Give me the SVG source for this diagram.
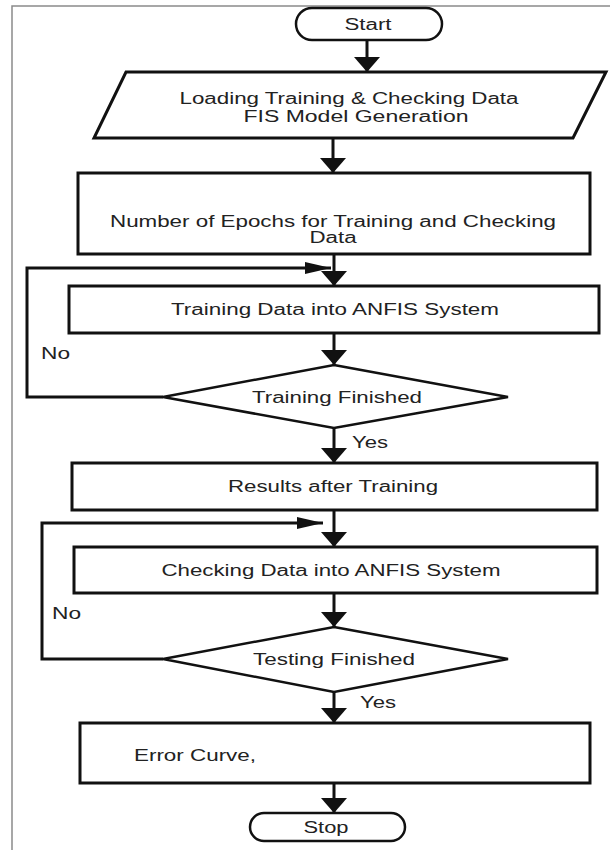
<svg xmlns="http://www.w3.org/2000/svg" width="610" height="850" viewBox="0 0 610 850">
<style>
  .frame { fill: none; stroke: #8a8a8a; stroke-width: 1.5; }
  .node { fill: #ffffff; stroke: #111111; stroke-width: 3; stroke-linejoin: miter; }
  .term { fill: #ffffff; stroke: #111111; stroke-width: 2.5; }
  .dec { fill: #ffffff; stroke: #111111; stroke-width: 2.5; stroke-linejoin: miter; }
  .conn { fill: none; stroke: #111111; stroke-width: 3; }
  text { font-family: "Liberation Sans", Arial, Helvetica, sans-serif; font-size: 16px; fill: #222222; }
  .c { text-anchor: middle; }
</style>
<defs>
  <marker id="head" viewBox="0 0 15 26" refX="15" refY="13" markerWidth="15" markerHeight="26" orient="auto" markerUnits="userSpaceOnUse">
    <path d="M0,0 L15,13 L0,26 Z" fill="#111111"/>
  </marker>
  <marker id="loophead" viewBox="0 0 26 12" refX="26" refY="6" markerWidth="26" markerHeight="12" orient="auto" markerUnits="userSpaceOnUse">
    <path d="M0,0 L26,6 L0,12 Z" fill="#111111"/>
  </marker>
</defs>
<rect width="610" height="850" fill="#ffffff"/>
<path class="frame" d="M12,850 L12,6 L610,6"/>

<g id="connectors">
  <line class="conn" x1="367" y1="40" x2="367" y2="72" marker-end="url(#head)"/>
  <line class="conn" x1="333" y1="138" x2="333" y2="173" marker-end="url(#head)"/>
  <line class="conn" x1="334" y1="254" x2="334" y2="286" marker-end="url(#head)"/>
  <polyline class="conn" points="163,397 27,397 27,268 331,268" marker-end="url(#loophead)"/>
  <line class="conn" x1="334" y1="333" x2="334" y2="365" marker-end="url(#head)"/>
  <line class="conn" x1="334" y1="428" x2="334" y2="463" marker-end="url(#head)"/>
  <line class="conn" x1="334" y1="510" x2="334" y2="547" marker-end="url(#head)"/>
  <polyline class="conn" points="163,659 42,659 42,523 323,523" marker-end="url(#loophead)"/>
  <line class="conn" x1="334" y1="593" x2="334" y2="627" marker-end="url(#head)"/>
  <line class="conn" x1="334" y1="692" x2="334" y2="723" marker-end="url(#head)"/>
  <line class="conn" x1="334" y1="783" x2="334" y2="813" marker-end="url(#head)"/>
  <text x="41" y="359" textLength="29" lengthAdjust="spacingAndGlyphs">No</text>
  <text x="352" y="448" textLength="36" lengthAdjust="spacingAndGlyphs">Yes</text>
  <text x="52" y="619" textLength="29" lengthAdjust="spacingAndGlyphs">No</text>
  <text x="360" y="708" textLength="36" lengthAdjust="spacingAndGlyphs">Yes</text>
</g>

<g id="start">
  <rect class="term" x="296" y="8" width="146" height="32" rx="16" ry="16"/>
  <text class="c" x="368" y="30" textLength="47" lengthAdjust="spacingAndGlyphs">Start</text>
</g>

<g id="load-data">
  <polygon class="node" points="126,72 606,72 573,138 94,138"/>
  <text class="c" x="349" y="104" textLength="339" lengthAdjust="spacingAndGlyphs">Loading Training &amp; Checking Data</text>
  <text class="c" x="356" y="122" textLength="225" lengthAdjust="spacingAndGlyphs">FIS Model Generation</text>
</g>

<g id="epochs">
  <rect class="node" x="78" y="173" width="512" height="81"/>
  <text class="c" x="333" y="227" textLength="446" lengthAdjust="spacingAndGlyphs">Number of Epochs for Training and Checking</text>
  <text class="c" x="333" y="243" textLength="47" lengthAdjust="spacingAndGlyphs">Data</text>
</g>

<g id="train-anfis">
  <rect class="node" x="69" y="286" width="530" height="47"/>
  <text class="c" x="335" y="315" textLength="328" lengthAdjust="spacingAndGlyphs">Training Data into ANFIS System</text>
</g>

<g id="training-finished">
  <polygon class="dec" points="334,365 508,397 334,428 163,397"/>
  <text class="c" x="337" y="403" textLength="170" lengthAdjust="spacingAndGlyphs">Training Finished</text>
</g>

<g id="results">
  <rect class="node" x="72" y="463" width="525" height="47"/>
  <text class="c" x="333" y="492" textLength="210" lengthAdjust="spacingAndGlyphs">Results after Training</text>
</g>

<g id="check-anfis">
  <rect class="node" x="74" y="547" width="523" height="46"/>
  <text class="c" x="331" y="576" textLength="339" lengthAdjust="spacingAndGlyphs">Checking Data into ANFIS System</text>
</g>

<g id="testing-finished">
  <polygon class="dec" points="334,627 508,659 334,692 163,659"/>
  <text class="c" x="334" y="665" textLength="162" lengthAdjust="spacingAndGlyphs">Testing Finished</text>
</g>

<g id="error-curve">
  <rect class="node" x="80" y="723" width="510" height="60"/>
  <text x="134" y="761" textLength="122" lengthAdjust="spacingAndGlyphs">Error Curve,</text>
</g>

<g id="stop">
  <rect class="term" x="250" y="813" width="155" height="28" rx="14" ry="14"/>
  <text class="c" x="326" y="833" textLength="45" lengthAdjust="spacingAndGlyphs">Stop</text>
</g>
</svg>
